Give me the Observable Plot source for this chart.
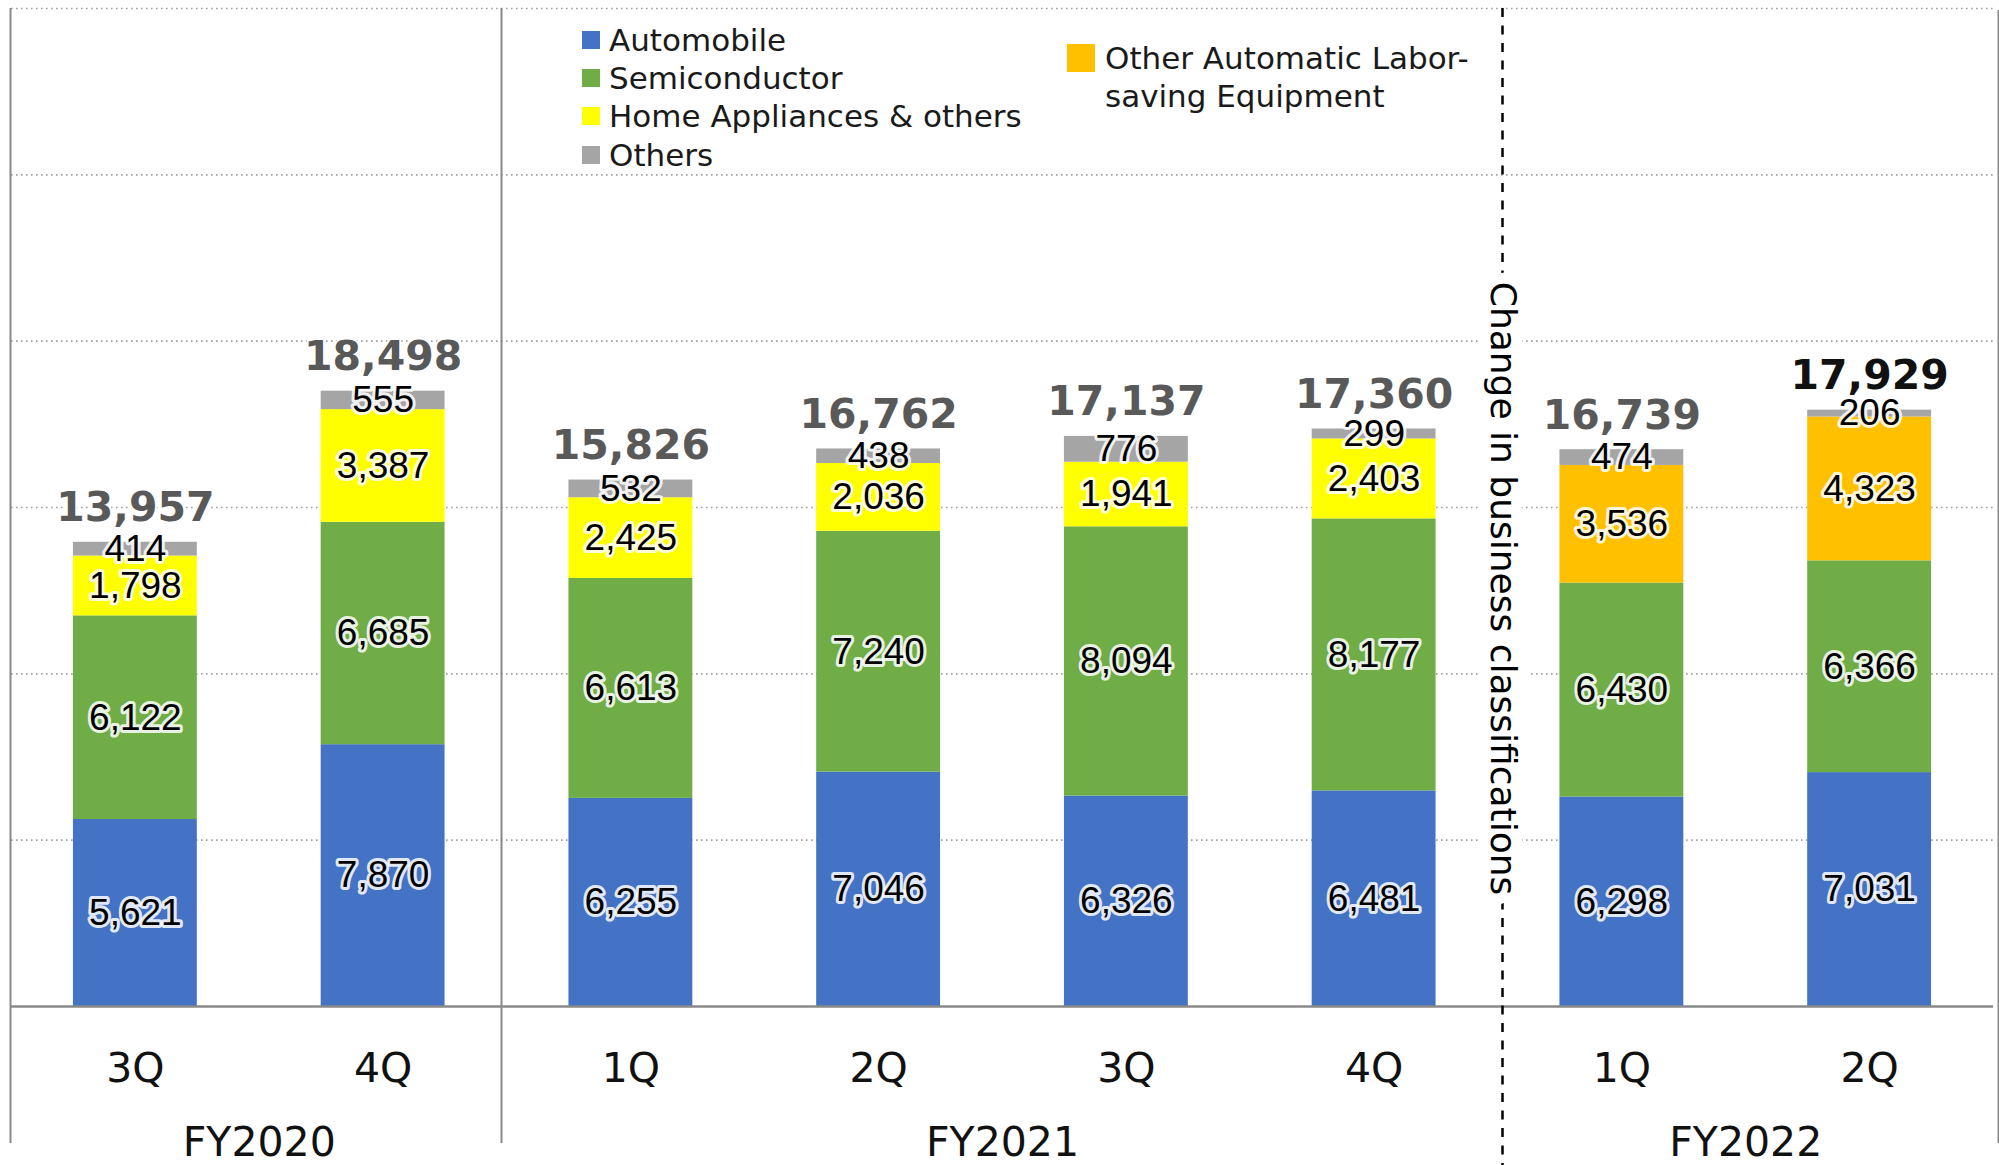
<!DOCTYPE html>
<html>
<head>
<meta charset="utf-8">
<script src="https://cdn.jsdelivr.net/npm/d3@7"></script>
<script src="https://cdn.jsdelivr.net/npm/@observablehq/plot@0.6"></script>
<style>
  html, body { margin: 0; padding: 0; background: #fff; overflow: hidden; }
  #wrap { position: relative; width: 1999px; height: 1165px; overflow: hidden; }
  #wrap svg { display: block; }
  .legend { position: absolute; font-family: "DejaVu Sans", sans-serif; font-size: 31px; color: #1a1a1a; line-height: 38.2px; }
  .row { display: flex; align-items: center; height: 38.2px; white-space: nowrap; }
  .sw { width: 18px; height: 18px; margin-right: 9px; flex: none; }
  .legend2 { position: absolute; font-family: "DejaVu Sans", sans-serif; font-size: 31px; color: #1a1a1a; line-height: 38.2px; display: flex; align-items: flex-start; }
  .sw2 { width: 28px; height: 28px; margin-right: 10px; margin-top: 5px; flex: none; }
</style>
</head>
<body>
<div id="wrap"></div>
<script>
// ---- Data ----
const quarters = ["3Q", "4Q", "1Q", "2Q", "3Q", "4Q", "1Q", "2Q"];
const quarterYears = ["FY2020", "FY2020", "FY2021", "FY2021", "FY2021", "FY2021", "FY2022", "FY2022"];
const fiscalYears = ["FY2020", "FY2021", "FY2022"];

const seriesNames = ["Automobile", "Semiconductor", "Home Appliances & others", "Other Automatic Labor-saving Equipment", "Others"];
const seriesColors = ["#4472C4", "#70AD47", "#FFFF00", "#FFC000", "#A5A5A5"];

const automobile     = [5621, 7870, 6255, 7046, 6326, 6481, 6298, 7031];
const semiconductor  = [6122, 6685, 6613, 7240, 8094, 8177, 6430, 6366];
const homeAppliances = [1798, 3387, 2425, 2036, 1941, 2403, null, null];
const otherAutomatic = [null, null, null, null, null, null, 3536, 4323];
const others         = [414, 555, 532, 438, 776, 299, 474, 206];
const totals         = [13957, 18498, 15826, 16762, 17137, 17360, 16739, 17929];

const yTicks = [5000, 10000, 15000, 20000, 25000, 30000];
const changeLabel = "Change in business classifications";

// ---- Derived tables ----
const categories = quarters.map((q, i) => quarterYears[i] + " " + q);
const seriesValues = [automobile, semiconductor, homeAppliances, otherAutomatic, others];
const fmt = d3.format(",");

const segments = [];
categories.forEach((cat, i) => {
  let base = 0;
  seriesValues.forEach((vals, s) => {
    const v = vals[i];
    if (v == null) return;
    segments.push({cat, series: seriesNames[s], value: v, y1: base, y2: base + v, mid: base + v / 2});
    base += v;
  });
});

const totalTable = categories.map((cat, i) => ({cat, total: totals[i], last: i === categories.length - 1}));
const quarterTable = categories.map((cat, i) => ({cat, q: quarters[i]}));
const fyTable = fiscalYears.map(fy => {
  const idx = quarterYears.map((y, i) => y === fy ? i : -1).filter(i => i >= 0);
  return {cat: categories[idx[0] + idx.length / 2 - 1], label: fy};
});
const firstOf = fy => categories[quarterYears.indexOf(fy)];

const W = 1999, H = 1165;
const mL = 11, mR = 6;
const step = (W - mL - mR) / 8;

const chart = Plot.plot({
  width: W,
  height: H,
  marginLeft: mL,
  marginRight: mR,
  marginTop: 8,
  marginBottom: 159,
  x: {type: "band", domain: categories, paddingInner: 0.5, paddingOuter: 0.25, round: false, axis: null},
  y: {domain: [0, 30000], axis: null},
  color: {domain: seriesNames, range: seriesColors},
  style: {background: "white", fontFamily: "DejaVu Sans, sans-serif"},
  marks: [
    Plot.ruleY(yTicks, {stroke: "#a0a0a0", strokeWidth: 1.6, strokeDasharray: "1.6,3.4"}),
    Plot.barY(segments, {x: "cat", y1: "y1", y2: "y2", fill: "series"}),
    Plot.ruleY([0], {stroke: "#898989", strokeWidth: 2.5}),
    // frame / group separators
    Plot.ruleX([categories[0]], {dx: -step / 2 - 1, insetBottom: -137, stroke: "#898989", strokeWidth: 2}),
    Plot.ruleX([firstOf("FY2021")], {dx: -step / 2 - 5.5, insetBottom: -137, stroke: "#898989", strokeWidth: 2}),
    Plot.ruleX([categories[categories.length - 1]], {dx: step / 2 + 5, insetTop: 2, insetBottom: -137, stroke: "#898989", strokeWidth: 2}),
    Plot.ruleX([firstOf("FY2022")], {dx: -step / 2 + 4.5, insetBottom: -160, stroke: "#000", strokeWidth: 2.5, strokeDasharray: "9,8.5"}),
    // rotated note on the dashed line
    Plot.text([{cat: firstOf("FY2022"), label: changeLabel}], {
      x: "cat", text: "label", rotate: 90, frameAnchor: "middle", dx: -step / 2 + 4.5, dy: 81,
      fontSize: 36, fontFamily: "DejaVu Sans, sans-serif", fill: "#000",
      stroke: "white", strokeWidth: 22, strokeLinejoin: "round", paintOrder: "stroke", lineAnchor: "middle"
    }),
    // segment value labels
    Plot.text(segments, {
      x: "cat", y: "mid", text: d => fmt(d.value),
      fontSize: 37, fontFamily: "Liberation Sans, Arial, sans-serif", fill: "#000",
      stroke: "white", strokeWidth: 6, strokeOpacity: 0.85, paintOrder: "stroke", lineAnchor: "middle"
    }),
    // totals
    Plot.text(totalTable, {
      x: "cat", y: "total", text: d => fmt(d.total), dy: -21, lineAnchor: "bottom",
      fontSize: 41, fontWeight: "bold", fontFamily: "DejaVu Sans, sans-serif",
      fill: d => d.last ? "#111111" : "#595959", stroke: "white", strokeWidth: 4, paintOrder: "stroke"
    }),
    // quarter labels
    Plot.text(quarterTable, {
      x: "cat", text: "q", frameAnchor: "bottom", lineAnchor: "bottom", dy: 75,
      fontSize: 41, fontFamily: "DejaVu Sans, sans-serif", fill: "#111"
    }),
    // fiscal year labels
    Plot.text(fyTable, {
      x: "cat", text: "label", frameAnchor: "bottom", lineAnchor: "bottom", dx: step / 2, dy: 149,
      fontSize: 41, fontFamily: "DejaVu Sans, sans-serif", fill: "#111"
    })
  ]
});

const wrap = document.getElementById("wrap");
wrap.appendChild(chart);

// legend (inside the plot area)
const leg = document.createElement("div");
leg.className = "legend";
leg.style.left = "582px";
leg.style.top = "21px";
[0, 1, 2, 4].forEach(s => {
  const row = document.createElement("div");
  row.className = "row";
  const sw = document.createElement("span");
  sw.className = "sw";
  sw.style.background = seriesColors[s];
  row.appendChild(sw);
  row.appendChild(document.createTextNode(seriesNames[s]));
  leg.appendChild(row);
});
wrap.appendChild(leg);

const leg2 = document.createElement("div");
leg2.className = "legend2";
leg2.style.left = "1067px";
leg2.style.top = "39px";
const sw2 = document.createElement("span");
sw2.className = "sw2";
sw2.style.background = seriesColors[3];
leg2.appendChild(sw2);
const t2 = document.createElement("div");
t2.innerHTML = "Other Automatic Labor-<br>saving Equipment";
leg2.appendChild(t2);
wrap.appendChild(leg2);
</script>
</body>
</html>
